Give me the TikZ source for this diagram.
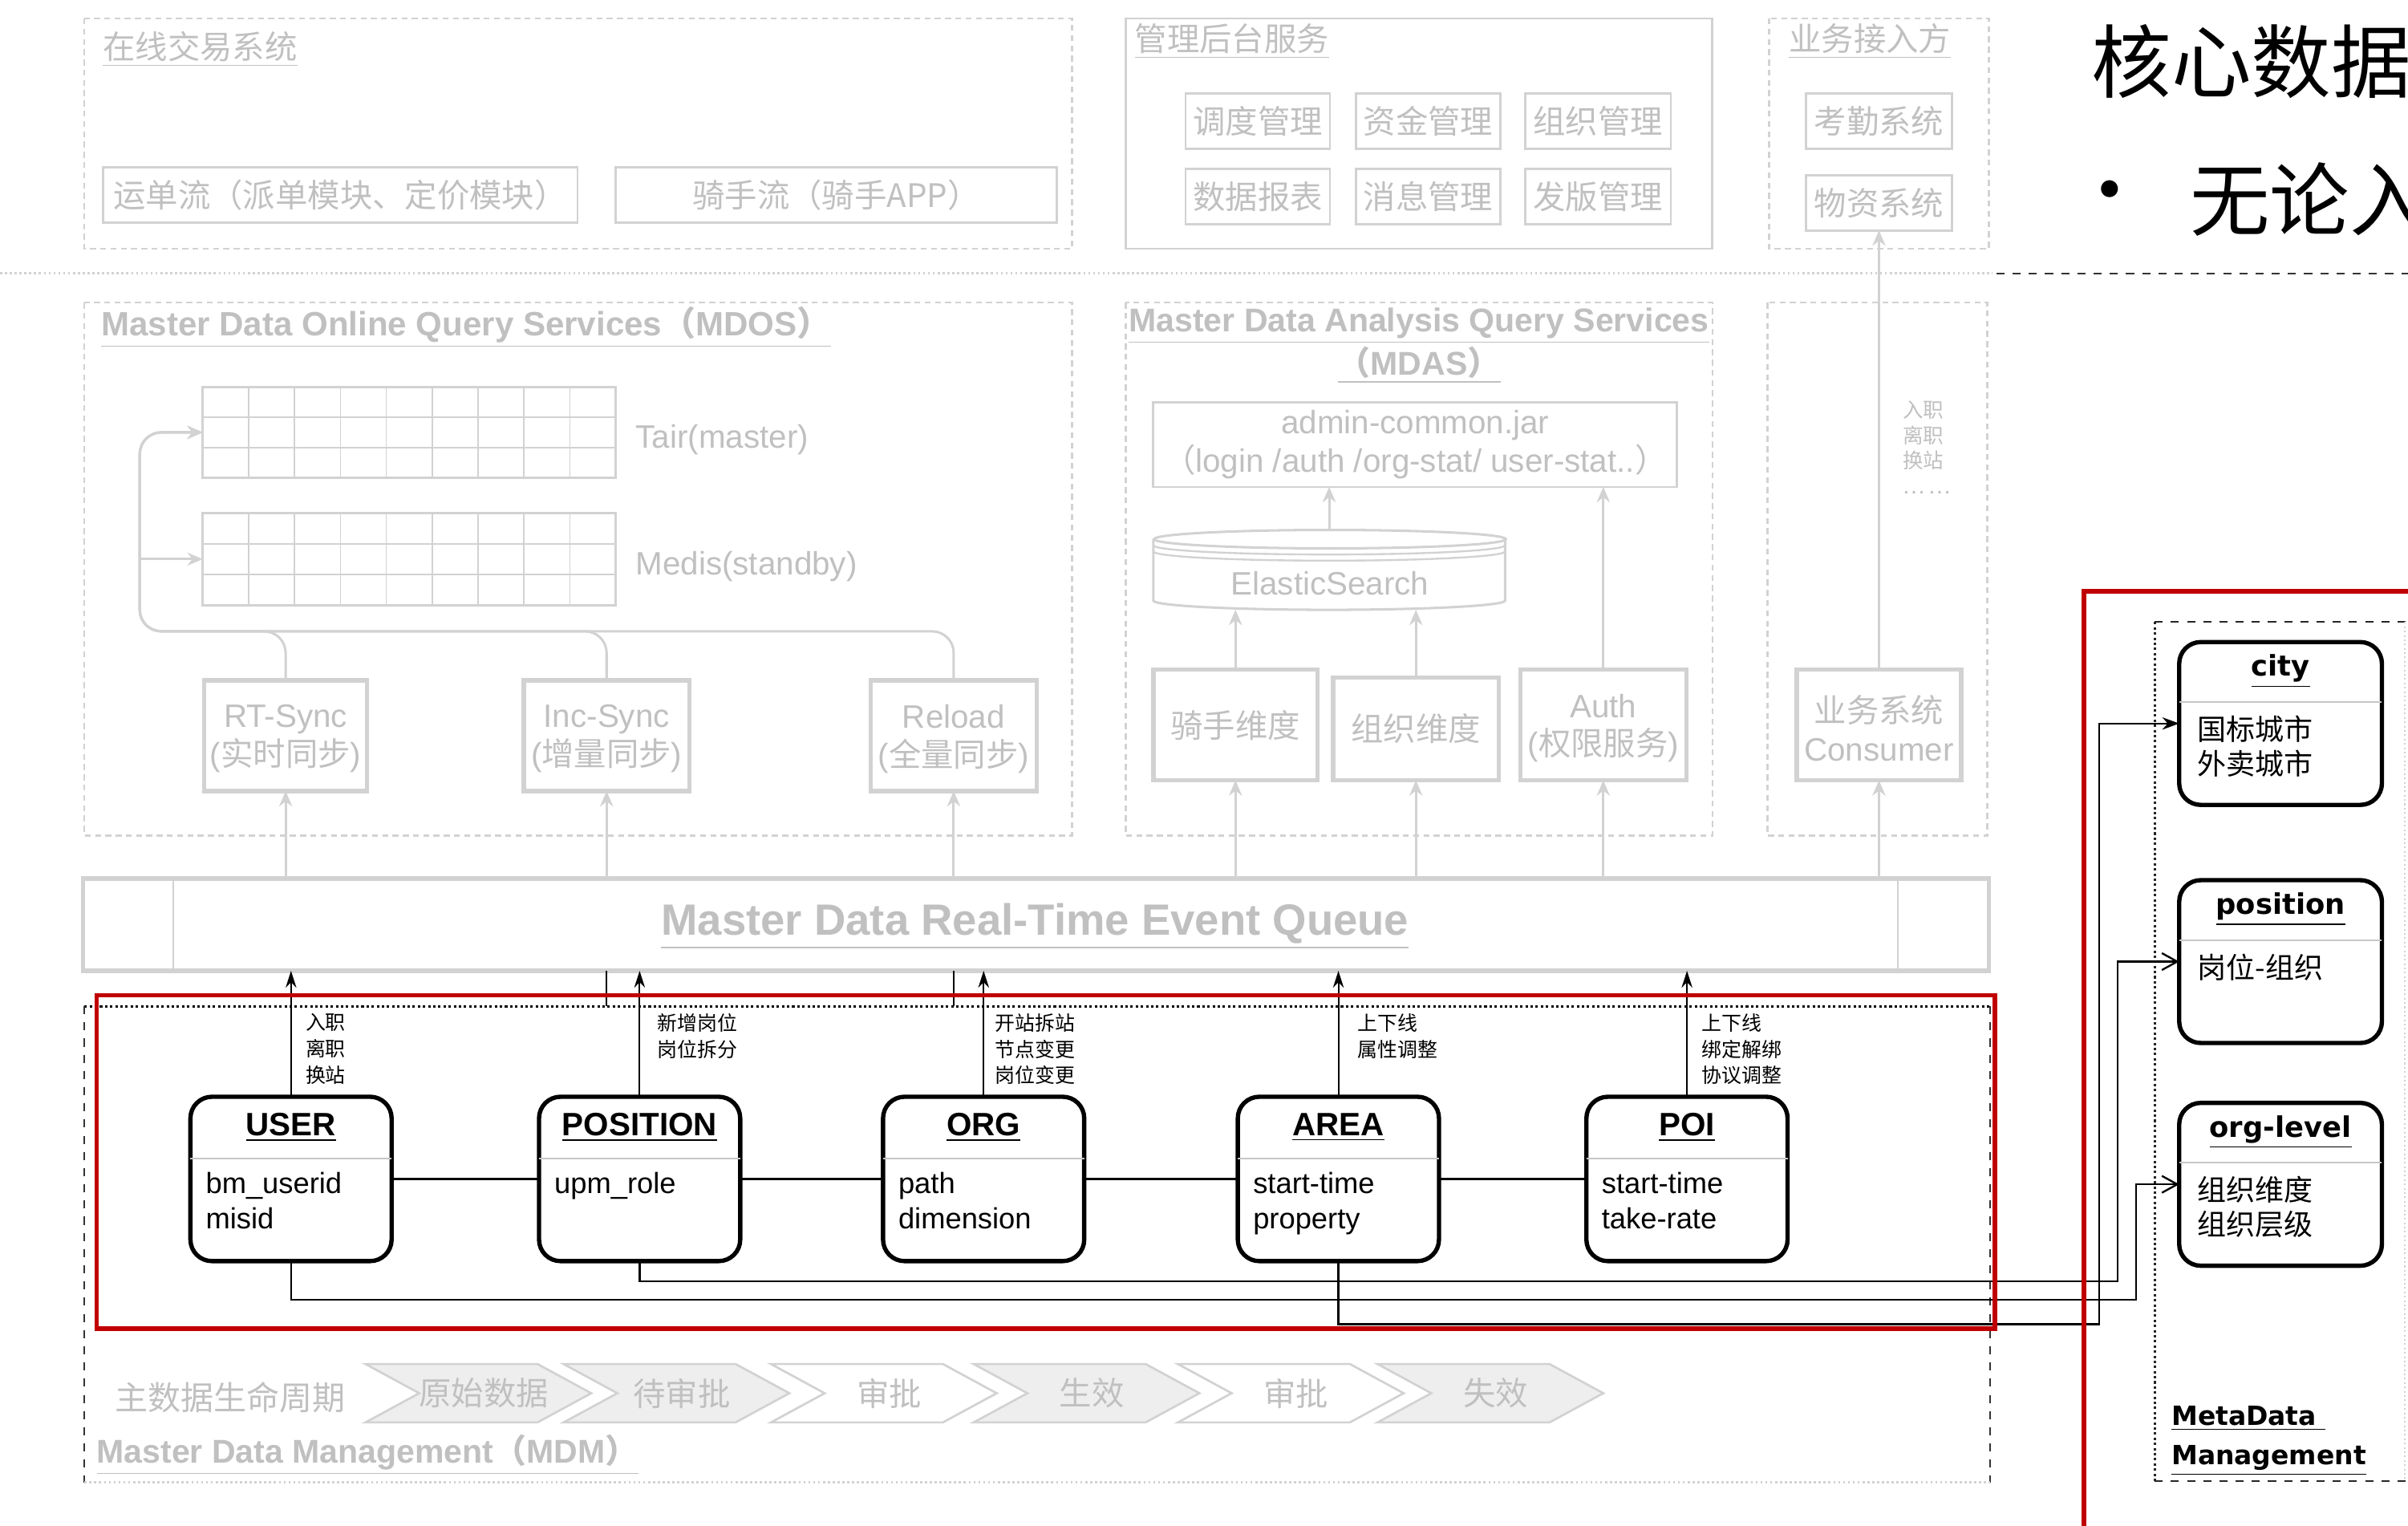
\documentclass[tikz,border=0pt]{standalone}
\usepackage{fontspec}
\setmainfont{Liberation Sans}
\newfontfamily\cjk{Noto Sans CJK SC}
\newfontfamily\verd{DejaVu Sans}
\usepackage{tikz}
\usetikzlibrary{arrows.meta, positioning, fit, calc}
\definecolor{ghostgray}{RGB}{192,192,192}
\definecolor{ghostrule}{RGB}{210,210,210}
\definecolor{chevfill}{RGB}{238,238,238}
\definecolor{mdmred}{RGB}{192,0,0}

\begin{document}
\begin{tikzpicture}[
    x=0.2mm, y=-0.2mm,
    every node/.style={inner sep=0pt, outer sep=0pt},
    faint/.style={text=ghostgray, font=\fontsize{12}{14.2}\selectfont, align=center},
    faintbox/.style={draw=ghostrule, line width=0.8pt},
    syncbox/.style={faintbox, line width=1.6pt},
    gridbox/.style={draw=ghostrule, line width=1pt},
    cellline/.style={draw=ghostrule, line width=0.5pt},
    queuebox/.style={draw=ghostrule, line width=1.6pt},
    zonebox/.style={draw=ghostrule, dash pattern=on 2.2pt off 1.6pt, line width=0.7pt},
    zonetitle/.style={text=ghostgray, font=\fontsize{12}{13.7}\selectfont, anchor=west},
    ghostflow/.style={draw=ghostrule, line width=0.9pt, -{Stealth[length=2mm, width=1.7mm]}},
    entity/.style={draw, rounded corners=2.8mm, line width=1.6pt},
    etitle/.style={font=\bfseries\fontsize{12}{14}\selectfont},
    attr/.style={font=\fontsize{10.8}{13.1}\selectfont, align=left, anchor=north west},
    sepline/.style={draw=black!22, line width=0.6pt},
    evflow/.style={-{Stealth[length=2.2mm, width=1.4mm]}, line width=0.6pt},
    evlabel/.style={font=\cjk\fontsize{7.4}{9.7}\selectfont, align=left, anchor=north west},
    link/.style={line width=0.7pt},
    metaflow/.style={link, -{Straight Barb[length=2mm, width=2.2mm]}},
    mtitle/.style={font=\verd\bfseries\fontsize{10.5}{12}\selectfont},
    mattr/.style={font=\cjk\fontsize{10.7}{12.6}\selectfont, align=left, anchor=north west},
    stage/.style={draw=ghostrule, line width=0.8pt}
]
\useasboundingbox[fill=white] (0,0) rectangle (1568,993);

% Online trading
\draw[zonebox] (55,12) rectangle (698,162);
\node[zonetitle] (trade-t) at (67,32) {\cjk\underline{在线交易系统}};
\node[faintbox, fit={(67,109) (376,145)}] (waybill) {};
\node[faint] (waybill-t) at (waybill) {\cjk 运单流（派单模块、定价模块）};
\node[faintbox, fit={(401,109) (688,145)}] (riderapp) {};
\node[faint] (riderapp-t) at (riderapp) {\cjk 骑手流（骑手APP）};

% Admin backend
\draw[ghostrule, line width=0.8pt] (733,12) rectangle (1115,162);
\node[zonetitle] (backend-t) at (739,27) {\cjk\underline{管理后台服务}};
\node[faintbox, fit={(772,61) (866,97)}] (dispatch) {};
\node[faintbox, fit={(883,61) (977,97)}] (fund) {};
\node[faintbox, fit={(993,61) (1088,97)}] (orgmgr) {};
\node[faintbox, fit={(772,110) (866,146)}] (report) {};
\node[faintbox, fit={(883,110) (977,146)}] (message) {};
\node[faintbox, fit={(993,110) (1088,146)}] (release) {};
\foreach \n/\lbl in {dispatch/调度管理, fund/资金管理, orgmgr/组织管理, report/数据报表, message/消息管理, release/发版管理}
  \node[faint] (\n-t) at (\n) {\cjk \lbl};

% Business side
\draw[zonebox] (1152,12) rectangle (1295,162);
\node[zonetitle] (access-t) at (1165,27) {\cjk\underline{业务接入方}};
\node[faintbox, fit={(1176,61) (1271,97)}] (attend) {};
\node[faint] (attend-t) at (attend) {\cjk 考勤系统};
\node[faintbox, fit={(1176,114) (1271,150)}] (material) {};
\node[faint] (material-t) at (material) {\cjk 物资系统};

\draw[ghostrule, densely dotted, line width=0.8pt] (0,178) -- (1297,178);
\draw[black!80, dashed, line width=0.7pt] (1300,178) -- (1568,178);

% Headline
\node[anchor=west, font=\cjk\fontsize{29.6}{32}\selectfont] (headline) at (1362,40) {核心数据};
\node[font=\cjk\fontsize{29.6}{32}\selectfont] (bullet) at (1374,130) {•};
\node[anchor=west, font=\cjk\fontsize{29.6}{32}\selectfont] (subline) at (1426,130) {无论入};

% MDOS
\draw[zonebox] (55,197) rectangle (698,544);
\node[zonetitle, font=\bfseries\fontsize{12.5}{14}\selectfont] (mdos-t) at (66,213) {\underline{Master Data Online Query Services{\cjk（}MDOS{\cjk）}}};
\node[gridbox, fit={(132,252) (401,311)}] (tair) {};
\node[gridbox, fit={(132,334) (401,394)}] (medis) {};
\foreach \tb in {tair, medis} {
  \foreach \i in {1,...,8}
    \draw[cellline] ($(\tb.north west)!\i/9!(\tb.north east)$) -- ($(\tb.south west)!\i/9!(\tb.south east)$);
  \foreach \j in {1,2}
    \draw[cellline] ($(\tb.north west)!\j/3!(\tb.south west)$) -- ($(\tb.north east)!\j/3!(\tb.south east)$);
}
\node[faint, anchor=west] (tair-l) at (414,286) {Tair(master)};
\node[faint, anchor=west] (medis-l) at (414,369) {Medis(standby)};

\node[syncbox, fit={(133,443) (239,515)}] (rtsync) {};
\node[faint] (rtsync-t) at ($(rtsync)+(0,2)$) {RT-Sync\\({\cjk 实时同步})};
\node[syncbox, fit={(341,443) (449,515)}] (incsync) {};
\node[faint] (incsync-t) at ($(incsync)+(0,2)$) {Inc-Sync\\({\cjk 增量同步})};
\node[syncbox, fit={(567,443) (675,515)}] (reload) {};
\node[faint] (reload-t) at ($(reload)+(0,2)$) {Reload\\({\cjk 全量同步})};

\coordinate (busL) at (91,411);
\foreach \s in {rtsync, incsync, reload}
  \draw[ghostflow, rounded corners=8] (\s.north) |- (busL) |- (tair.west);
\draw[ghostflow] (busL |- medis.west) -- (medis.west);

% MDAS
\draw[zonebox] (733,197) rectangle (1115,544);
\node[text=ghostgray, font=\bfseries\fontsize{12.2}{13.7}\selectfont, align=center] (mdas-t) at (924,225)
  {\underline{Master Data Analysis Query Services}\\\underline{{\cjk（}MDAS{\cjk）}}};
\node[faintbox, fit={(751,262) (1092,317)}] (admin) {};
\node[faint] (admin-t) at (admin) {admin-common.jar\\{\cjk（}login /auth /org-stat/ user-stat..{\cjk）}};
\node[fit={(751,345) (980,397)}] (es) {};
\draw[ghostrule, line width=0.9pt] (866,351) ellipse [x radius=22.9mm, y radius=1.2mm];
\draw[ghostrule, line width=0.7pt] (751,355) arc[start angle=180, end angle=360, x radius=22.9mm, y radius=1.2mm];
\draw[ghostrule, line width=0.7pt] (751,359) arc[start angle=180, end angle=360, x radius=22.9mm, y radius=1.2mm];
\draw[ghostrule, line width=0.9pt] (751,351) -- (751,391) arc[start angle=180, end angle=360, x radius=22.9mm, y radius=1.2mm] -- (980,351);
\node[faint] (es-t) at (866,380) {ElasticSearch};
\node[syncbox, fit={(751,436) (858,508)}] (rider) {};
\node[faint] (rider-t) at (rider) {\cjk 骑手维度};
\node[syncbox, fit={(868,441) (976,508)}] (orgdim) {};
\node[faint] (orgdim-t) at (orgdim) {\cjk 组织维度};
\node[syncbox, fit={(990,436) (1098,508)}] (auth) {};
\node[faint] (auth-t) at ($(auth)+(0,2)$) {Auth\\({\cjk 权限服务})};

\draw[ghostflow] (rider.north) -- (rider.north |- es.south);
\draw[ghostflow] (orgdim.north) -- (orgdim.north |- es.south);
\draw[ghostflow] (es.north) -- (es.north |- admin.south);
\draw[ghostflow] (auth.north) -- (auth.north |- admin.south);

% Consumers
\draw[zonebox] (1151,197) rectangle (1294,544);
\node[syncbox, fit={(1170,436) (1277,508)}] (consumer) {};
\node[faint] (consumer-t) at ($(consumer)+(0,2)$) {{\cjk 业务系统}\\Consumer};
\draw[ghostflow] (consumer.north) -- (material.south);
\node[text=ghostgray, font=\cjk\fontsize{7.6}{9.4}\selectfont, align=left, anchor=north west] (consumer-l) at (1239,261) {入职\\离职\\换站\\… …};

% Event queue
\node[queuebox, fit={(54,572) (1295,632)}] (queue) {};
\draw[ghostrule, line width=0.6pt] ($(queue.north west)+(59,0)$) -- ($(queue.south west)+(59,0)$);
\draw[ghostrule, line width=0.6pt] ($(queue.north east)+(-59,0)$) -- ($(queue.south east)+(-59,0)$);
\node[text=ghostgray, font=\bfseries\fontsize{16.2}{18}\selectfont] (queue-t) at (674,603) {\underline{Master Data Real-Time Event Queue}};
\foreach \s in {rtsync, incsync, reload, rider, orgdim, auth, consumer}
  \draw[ghostflow] (\s |- queue.north) -- (\s.south);

% MDM
\coordinate (mdmtop) at (55,655);
\draw[black, densely dotted, line width=0.9pt] (mdmtop) -- (1296,655);
\draw[black!80, dashed, line width=0.6pt] (mdmtop) -- (55,965);
\draw[black!80, dashed, line width=0.6pt] (1296,655) -- (1296,965);
\draw[ghostrule, densely dotted, line width=0.8pt] (55,965) -- (1296,965);
\draw[line width=0.6pt] (incsync |- queue.south) -- (incsync |- mdmtop);
\draw[line width=0.6pt] (reload |- queue.south) -- (reload |- mdmtop);

\foreach \n/\x/\lbl/\att in {user/124/USER/{bm\_userid\\misid}, position/351/POSITION/{upm\_role},
    org/575/ORG/{path\\dimension}, area/806/AREA/{start-time\\property}, poi/1033/POI/{start-time\\take-rate}} {
  \node[entity, fit={(\x,714) (\x+131,821)}] (\n) {};
  \node[etitle] (\n-t) at (\x+65.5,734) {\underline{\lbl}};
  \draw[sepline] (\x,754) -- (\x+131,754);
  \node[attr] (\n-a) at (\x+10,763) {\att};
  \draw[evflow] (\n.north) -- (\n.north |- queue.south);
}
\draw[link] (user.east) -- (position.west);
\draw[link] (position.east) -- (org.west);
\draw[link] (org.east) -- (area.west);
\draw[link] (area.east) -- (poi.west);

\node[evlabel] (user-l) at (199,660) {入职\\离职\\换站};
\node[evlabel] (position-l) at (428,660) {新增岗位\\岗位拆分};
\node[evlabel] (org-l) at (648,660) {开站拆站\\节点变更\\岗位变更};
\node[evlabel] (area-l) at (884,660) {上下线\\属性调整};
\node[evlabel] (poi-l) at (1108,660) {上下线\\绑定解绑\\协议调整};

% Lifecycle
\node[faint, font=\cjk\fontsize{12.2}{14}\selectfont] (life-t) at (150,910) {主数据生命周期};
\foreach \x/\lbl/\col [count=\i] in {238/原始数据/chevfill, 367/待审批/chevfill, 502/审批/white,
    634/生效/chevfill, 767/审批/white, 897/失效/chevfill} {
  \draw[stage, fill=\col] (\x,888) -- ++(112,0) -- ++(35,19) -- ++(-35,19) -- ++(-112,0) -- ++(35,-19) -- cycle;
  \node[faint, font=\cjk\fontsize{12}{14}\selectfont] (stage\i) at (\x+77,907) {\lbl};
}
\node[zonetitle, font=\bfseries\fontsize{12.2}{14}\selectfont] (mdm-t) at (63,947) {\underline{Master Data Management{\cjk（}MDM{\cjk）}}};

% MetaData
\draw[black!85, densely dotted, line width=0.9pt] (1403,405) -- (1403,964);
\draw[black!85, dashed, line width=0.6pt] (1403,405) -- (1568,405);
\draw[black!85, dashed, line width=0.6pt] (1403,964) -- (1568,964);
\draw[ghostrule, densely dotted, line width=0.6pt] (1566,405) -- (1566,964);
\foreach \n/\y/\lbl/\att in {mcity/418/city/{国标城市\\外卖城市}, mposition/573/position/{岗位-组织},
    mlevel/718/org-level/{组织维度\\组织层级}} {
  \node[entity, fit={(1419,\y) (1551,\y+106)}] (\n) {};
  \node[mtitle] (\n-t) at (1485,\y+19) {\underline{\lbl}};
  \draw[sepline] (1419,\y+39) -- (1551,\y+39);
  \node[mattr] (\n-a) at (1431,\y+48) {\att};
}
\node[font=\verd\bfseries\fontsize{9.8}{14.8}\selectfont, align=left, anchor=west] (meta-t) at (1414,938)
  {\underline{MetaData\ }\\\underline{Management}};

\coordinate (turnU) at (1391,846);
\coordinate (turnP) at (1379,834);
\coordinate (turnA) at (1367,862);
\draw[metaflow] (user.south) |- (turnU) |- (mlevel.west);
\draw[metaflow] (position.south) |- (turnP) |- (mposition.west);
\draw[link, -{Stealth[length=2.2mm, width=1.6mm]}] (area.south) |- (turnA) |- (mcity.west);

% Red frames
\draw[mdmred, line width=1.6pt] (63,648) rectangle (1299,865);
\draw[mdmred, line width=1.6pt] (1357,1000) -- (1357,385) -- (1580,385);

\end{tikzpicture}
\end{document}
